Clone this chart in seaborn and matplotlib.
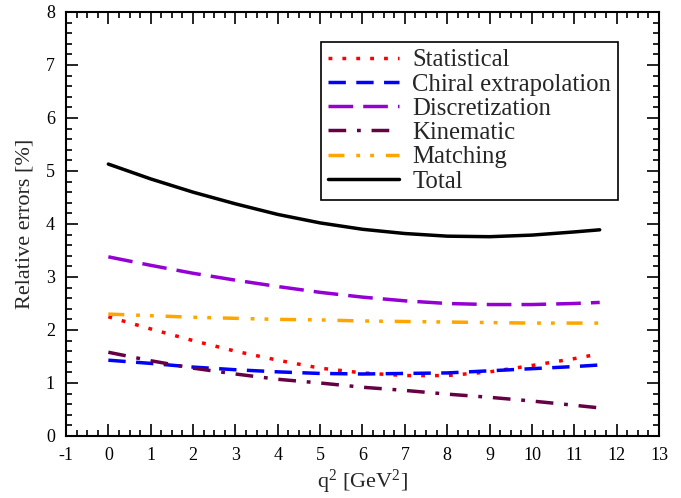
import matplotlib
matplotlib.use("Agg")
import matplotlib.pyplot as plt
import seaborn as sns
import pandas as pd
from matplotlib.ticker import MultipleLocator

q2 = [0, 1, 2, 3, 4, 5, 6, 7, 8, 9, 10, 11, 11.6]
statistical = [2.25, 2.02, 1.80, 1.60, 1.43, 1.28, 1.19, 1.14, 1.14, 1.21, 1.33, 1.46, 1.55]
chiral = [1.43, 1.37, 1.30, 1.25, 1.21, 1.18, 1.17, 1.18, 1.19, 1.23, 1.27, 1.31, 1.34]
discretization = [3.38, 3.22, 3.07, 2.94, 2.82, 2.71, 2.62, 2.55, 2.50, 2.48, 2.48, 2.50, 2.52]
kinematic = [1.58, 1.42, 1.28, 1.17, 1.07, 1.00, 0.92, 0.86, 0.79, 0.73, 0.66, 0.58, 0.53]
matching = [2.30, 2.27, 2.24, 2.22, 2.20, 2.19, 2.17, 2.16, 2.15, 2.14, 2.13, 2.13, 2.13]
total = [5.13, 4.85, 4.60, 4.38, 4.18, 4.02, 3.90, 3.82, 3.77, 3.76, 3.79, 3.85, 3.89]

labels = ["Statistical", "Chiral extrapolation", "Discretization", "Kinematic", "Matching", "Total"]
series = [statistical, chiral, discretization, kinematic, matching, total]
colors = ["#ff0000", "#0000ff", "#9400d3", "#660044", "#ffa500", "#000000"]
dashes = [(1.1, 2.9), (5.0, 3.0), (7.1, 2.9), (5.1, 3.1, 1.1, 3.1),
          (4.6, 3.4, 1.1, 2.9, 1.1, 3.4), None]

sns.set_theme(style="ticks")
plt.rcParams["font.family"] = ["Liberation Serif", "DejaVu Serif"]
plt.rcParams["mathtext.fontset"] = "custom"
plt.rcParams["mathtext.rm"] = "Liberation Serif"
plt.rcParams["mathtext.it"] = "Liberation Serif:italic"
plt.rcParams["axes.unicode_minus"] = False

fig = plt.figure(figsize=(6.81, 4.98), dpi=100)
ax = fig.add_axes([0.0969, 0.1245, 0.8708, 0.8515])

for lab, vals, col, ds in zip(labels, series, colors, dashes):
    df = pd.DataFrame({"q2": q2, "err": vals})
    sns.lineplot(data=df, x="q2", y="err", color=col, linewidth=2.5, label=lab, ax=ax)
    if ds is not None:
        ax.lines[-1].set_dashes(ds)
        ax.lines[-1].set_dash_capstyle("butt")

ax.set_xlim(-1, 13)
ax.set_ylim(0, 8)
ax.xaxis.set_major_locator(MultipleLocator(1))
ax.xaxis.set_minor_locator(MultipleLocator(0.25))
ax.yaxis.set_major_locator(MultipleLocator(1))
ax.yaxis.set_minor_locator(MultipleLocator(0.2))
ax.tick_params(which="both", direction="in", top=True, right=True, width=1.2, labelsize=13, colors="black")
ax.tick_params(which="major", length=8.5, pad=8)
ax.tick_params(which="minor", length=4)
for s in ax.spines.values():
    s.set_linewidth(1.5)
    s.set_color("black")

ax.set_xlabel(r"q$^2$ [GeV$^2$]", fontsize=16, labelpad=3)
ax.set_ylabel("Relative errors [%]", fontsize=16, labelpad=8)

leg = ax.legend(loc="upper right", bbox_to_anchor=(0.931, 0.929), fontsize=17.8, frameon=True, fancybox=False,
                edgecolor="black", framealpha=1, handlelength=2.85, handletextpad=0.55, labelspacing=0.08,
                borderpad=0.28, borderaxespad=0)
leg.get_frame().set_linewidth(1.2)

fig.savefig("out.png", dpi=100)
